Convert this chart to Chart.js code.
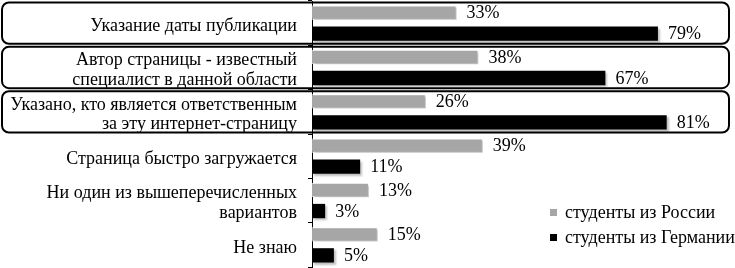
<!DOCTYPE html>
<html>
<head>
<meta charset="utf-8">
<script src="https://cdn.jsdelivr.net/npm/chart.js@4"></script>
<style>
  html, body { margin: 0; padding: 0; background: #fff; }
  #wrap { width: 735px; height: 268px; }
</style>
</head>
<body>
<div id="wrap"><canvas id="c"></canvas></div>
<script>
// категории и значения (в %)
var categories = [
  'Указание даты публикации',
  ['Автор страницы - известный', 'специалист в данной области'],
  ['Указано, кто является ответственным', 'за эту интернет-страницу'],
  'Страница быстро загружается',
  ['Ни один из вышеперечисленных', 'вариантов'],
  'Не знаю'
];
var russia = [33, 38, 26, 39, 13, 15];
var germany = [79, 67, 81, 11, 3, 5];
var seriesNames = ['студенты из России', 'студенты из Германии'];
var boxedRows = [0, 1, 2];

var serif = '"Liberation Serif", "Times New Roman", serif';

// рамки вокруг первых трёх пунктов
var boxPlugin = {
  id: 'boxes',
  afterDraw: function (chart) {
    var y = chart.scales.y;
    var ctx = chart.ctx;
    var step = y.getPixelForValue(1) - y.getPixelForValue(0);
    ctx.save();
    ctx.strokeStyle = '#000';
    ctx.lineWidth = 2;
    boxedRows.forEach(function (i) {
      var c = y.getPixelForValue(i);
      var top = c - step / 2 + 1.5;
      var h = step - 3;
      ctx.beginPath();
      ctx.roundRect(2, top, 727, h, 7);
      ctx.stroke();
    });
    ctx.restore();
  }
};

// подписи значений
var labelPlugin = {
  id: 'vals',
  afterDatasetsDraw: function (chart) {
    var ctx = chart.ctx;
    ctx.save();
    ctx.font = '18px ' + serif;
    ctx.fillStyle = '#000';
    ctx.textBaseline = 'middle';
    chart.data.datasets.forEach(function (ds, di) {
      chart.getDatasetMeta(di).data.forEach(function (bar, i) {
        ctx.fillText(ds.data[i] + '%', bar.x + 10, bar.y + 1);
      });
    });
    ctx.restore();
  }
};

// тень у столбиков
var shadowPlugin = {
  id: 'shadow',
  beforeDatasetsDraw: function (chart) {
    var ctx = chart.ctx;
    ctx.save();
    ctx.shadowColor = 'rgba(0,0,0,0.25)';
    ctx.shadowOffsetX = 2;
    ctx.shadowOffsetY = 2;
    ctx.shadowBlur = 2;
  },
  afterDatasetsDraw: function (chart) {
    chart.ctx.restore();
  }
};

// легенда справа внизу
var legendPlugin = {
  id: 'myLegend',
  afterDraw: function (chart) {
    var ctx = chart.ctx;
    ctx.save();
    ctx.font = '18px ' + serif;
    ctx.textBaseline = 'middle';
    chart.data.datasets.forEach(function (ds, i) {
      var yy = 213 + i * 25;
      ctx.fillStyle = ds.backgroundColor;
      ctx.fillRect(550, yy - 4, 7, 7);
      ctx.fillStyle = '#000';
      ctx.fillText(ds.label, 565, yy);
    });
    ctx.restore();
  }
};

new Chart(document.getElementById('c'), {
  type: 'bar',
  data: {
    labels: categories,
    datasets: [{
      label: seriesNames[0],
      data: russia,
      backgroundColor: '#a6a6a6',
      borderColor: '#ffffff',
      borderWidth: 1,
      categoryPercentage: 0.95,
      barPercentage: 0.68
    }, {
      label: seriesNames[1],
      data: germany,
      backgroundColor: '#000000',
      categoryPercentage: 0.95,
      barPercentage: 0.68
    }]
  },
  options: {
    indexAxis: 'y',
    responsive: true,
    maintainAspectRatio: false,
    animation: false,
    layout: { padding: { top: 1, bottom: 1, left: 0, right: 0 } },
    plugins: {
      legend: { display: false },
      tooltip: { enabled: false }
    },
    scales: {
      x: {
        display: false,
        min: 0,
        max: 96.6
      },
      y: {
        afterFit: function (s) {
          s.width = 312;
          s.paddingTop = 0;
          s.paddingBottom = 0;
        },
        border: { display: true, color: '#000', width: 1 },
        grid: {
          offset: true,
          drawOnChartArea: false,
          drawTicks: true,
          tickLength: 4,
          color: '#000'
        },
        ticks: {
          color: '#000',
          padding: 11,
          autoSkip: false,
          labelOffset: 3,
          font: { family: serif, size: 18, lineHeight: 1.1 }
        }
      }
    }
  },
  plugins: [shadowPlugin, labelPlugin, boxPlugin, legendPlugin]
});
</script>
</body>
</html>
